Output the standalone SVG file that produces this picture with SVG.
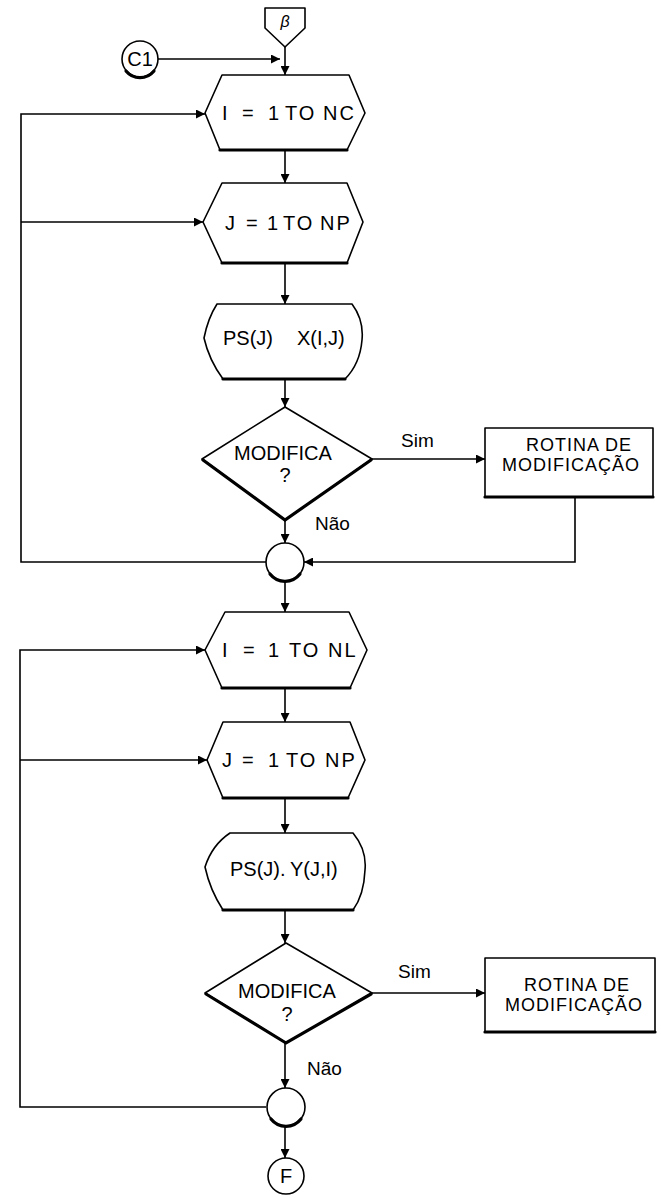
<svg xmlns="http://www.w3.org/2000/svg" width="661" height="1198" viewBox="0 0 661 1198">
  <style>
    .shape { fill: #fff; stroke: #000; stroke-width: 1.6; stroke-linejoin: round; }
    .heavy { fill: none; stroke: #000; stroke-width: 3.2; stroke-linecap: round; }
    .arrow { fill: none; stroke: #000; stroke-width: 1.6; marker-end: url(#tip); }
    text { font-family: "Liberation Sans", Arial, sans-serif; fill: #000; }
    .t20 { font-size: 20px; }
    .hex { font-size: 20px; letter-spacing: 2px; }
    .box { font-size: 18px; letter-spacing: 1px; }
    .lbl { font-size: 19px; }
    .mid { text-anchor: middle; }
  </style>
  <defs>
    <marker id="tip" viewBox="0 0 10 10" refX="10" refY="5" markerWidth="10" markerHeight="9" markerUnits="userSpaceOnUse" orient="auto">
      <path d="M0,0 L10,5 L0,10 Z" fill="#000"/>
    </marker>
  </defs>

  <!-- connectors -->
  <g id="connectors">
    <line class="arrow" x1="285" y1="47" x2="285" y2="75"/>
    <line class="arrow" x1="158" y1="59" x2="280" y2="59"/>
    <line class="arrow" x1="285" y1="150" x2="285" y2="183"/>
    <line class="arrow" x1="285" y1="263" x2="285" y2="304"/>
    <line class="arrow" x1="285" y1="379" x2="285" y2="407"/>
    <line class="arrow" x1="372" y1="459" x2="485" y2="459"/>
    <line class="arrow" x1="285" y1="520" x2="285" y2="543"/>
    <polyline class="arrow" points="575,497 575,562 304,562"/>
    <polyline class="arrow" points="266,562 21,562 21,114 205,114"/>
    <line class="arrow" x1="21" y1="222" x2="203" y2="222"/>
    <line class="arrow" x1="285" y1="581" x2="285" y2="612"/>
    <line class="arrow" x1="285" y1="688" x2="285" y2="722"/>
    <line class="arrow" x1="285" y1="798" x2="285" y2="833"/>
    <line class="arrow" x1="285" y1="910" x2="285" y2="943"/>
    <line class="arrow" x1="372" y1="993" x2="485" y2="993"/>
    <line class="arrow" x1="285" y1="1043" x2="285" y2="1088"/>
    <polyline class="arrow" points="266,1107 20,1107 20,650 205,650"/>
    <line class="arrow" x1="20" y1="760" x2="207" y2="760"/>
    <line class="arrow" x1="285" y1="1126" x2="285" y2="1158"/>
  </g>

  <!-- off-page connector -->
  <g id="beta">
    <path class="shape" d="M265,8 L305,8 L305,28 L285,47 L265,28 Z"/>
    <text x="285" y="27" class="mid" style="font-size:16px;font-style:italic;">β</text>
  </g>

  <g id="c1">
    <circle class="shape" cx="140" cy="59" r="18"/>
    <path class="heavy" d="M126,71 A18,18 0 0 0 154,71"/>
    <text x="140" y="66" class="mid t20">C1</text>
  </g>

  <!-- first loop -->
  <g id="loop-i-nc">
    <path class="shape" d="M222,75 L349,75 L365,113 L347,150 L220,150 L205,113 Z"/>
    <line class="heavy" x1="220" y1="150" x2="347" y2="150"/>
    <text class="hex" y="120"><tspan x="222">I</tspan><tspan x="242">=</tspan><tspan x="268">1</tspan><tspan x="285">TO</tspan><tspan x="323">NC</tspan></text>
  </g>

  <g id="loop-j-np-1">
    <path class="shape" d="M222,183 L347,183 L363,222 L347,263 L222,263 L203,222 Z"/>
    <line class="heavy" x1="222" y1="263" x2="347" y2="263"/>
    <text class="hex" y="230"><tspan x="225">J</tspan><tspan x="246">=</tspan><tspan x="267">1</tspan><tspan x="283">TO</tspan><tspan x="320">NP</tspan></text>
  </g>

  <g id="show-x">
    <path class="shape" d="M217,304 L352,304 Q364,320 362,340 Q360,364 345,379 L223,379 Q209,360 204,338 Q208,318 217,304 Z"/>
    <line class="heavy" x1="223" y1="379" x2="345" y2="379"/>
    <text class="t20" y="345"><tspan x="223">PS(J)</tspan><tspan x="297">X(I,J)</tspan></text>
  </g>

  <g id="decide-1">
    <path class="shape" d="M285,407 L372,459 L285,520 L202,459 Z"/>
    <path class="heavy" d="M203,460 L285,520 L371,460"/>
    <text x="283" y="460" class="mid t20">MODIFICA</text>
    <text x="285" y="482" class="mid t20">?</text>
  </g>

  <g id="routine-1">
    <rect class="shape" x="485" y="428" width="168" height="69"/>
    <line class="heavy" x1="485" y1="497" x2="653" y2="497"/>
    <text x="579" y="451" class="mid box">ROTINA DE</text>
    <text x="571" y="471" class="mid box">MODIFICAÇÃO</text>
  </g>

  <g id="merge-1">
    <circle class="shape" cx="285" cy="562" r="19"/>
    <path class="heavy" d="M270,574 A19,19 0 0 0 300,574"/>
  </g>

  <!-- second loop -->
  <g id="loop-i-nl">
    <path class="shape" d="M225,612 L349,612 L367,650 L350,688 L222,688 L205,650 Z"/>
    <line class="heavy" x1="222" y1="688" x2="350" y2="688"/>
    <text class="hex" y="657"><tspan x="222">I</tspan><tspan x="243">=</tspan><tspan x="268">1</tspan><tspan x="289">TO</tspan><tspan x="328">NL</tspan></text>
  </g>

  <g id="loop-j-np-2">
    <path class="shape" d="M223,722 L350,722 L365,760 L348,798 L223,798 L207,760 Z"/>
    <line class="heavy" x1="223" y1="798" x2="348" y2="798"/>
    <text class="hex" y="767"><tspan x="222">J</tspan><tspan x="242">=</tspan><tspan x="268">1</tspan><tspan x="286">TO</tspan><tspan x="325">NP</tspan></text>
  </g>

  <g id="show-y">
    <path class="shape" d="M230,833 L353,833 Q367,850 365,870 Q364,895 353,910 L223,910 Q210,890 205,867 Q212,845 230,833 Z"/>
    <line class="heavy" x1="223" y1="910" x2="353" y2="910"/>
    <text class="t20" y="876"><tspan x="230">PS(J).</tspan><tspan x="290">Y(J,I)</tspan></text>
  </g>

  <g id="decide-2">
    <path class="shape" d="M286,943 L372,993 L286,1043 L205,993 Z"/>
    <path class="heavy" d="M206,994 L286,1043 L371,994"/>
    <text x="287" y="998" class="mid t20">MODIFICA</text>
    <text x="287" y="1021" class="mid t20">?</text>
  </g>

  <g id="routine-2">
    <rect class="shape" x="485" y="958" width="170" height="74"/>
    <line class="heavy" x1="485" y1="1032" x2="655" y2="1032"/>
    <text x="577" y="991" class="mid box">ROTINA DE</text>
    <text x="574" y="1011" class="mid box">MODIFICAÇÃO</text>
  </g>

  <g id="merge-2">
    <circle class="shape" cx="286" cy="1107" r="19"/>
    <path class="heavy" d="M271,1119 A19,19 0 0 0 301,1119"/>
  </g>

  <g id="end-f">
    <circle class="shape" cx="286" cy="1176" r="18"/>
    <text x="286" y="1183" class="mid t20">F</text>
  </g>

  <!-- branch labels -->
  <g id="labels">
    <text x="401" y="447" class="lbl">Sim</text>
    <text x="315" y="530" class="lbl">Não</text>
    <text x="398" y="978" class="lbl">Sim</text>
    <text x="307" y="1075" class="lbl">Não</text>
  </g>
</svg>
